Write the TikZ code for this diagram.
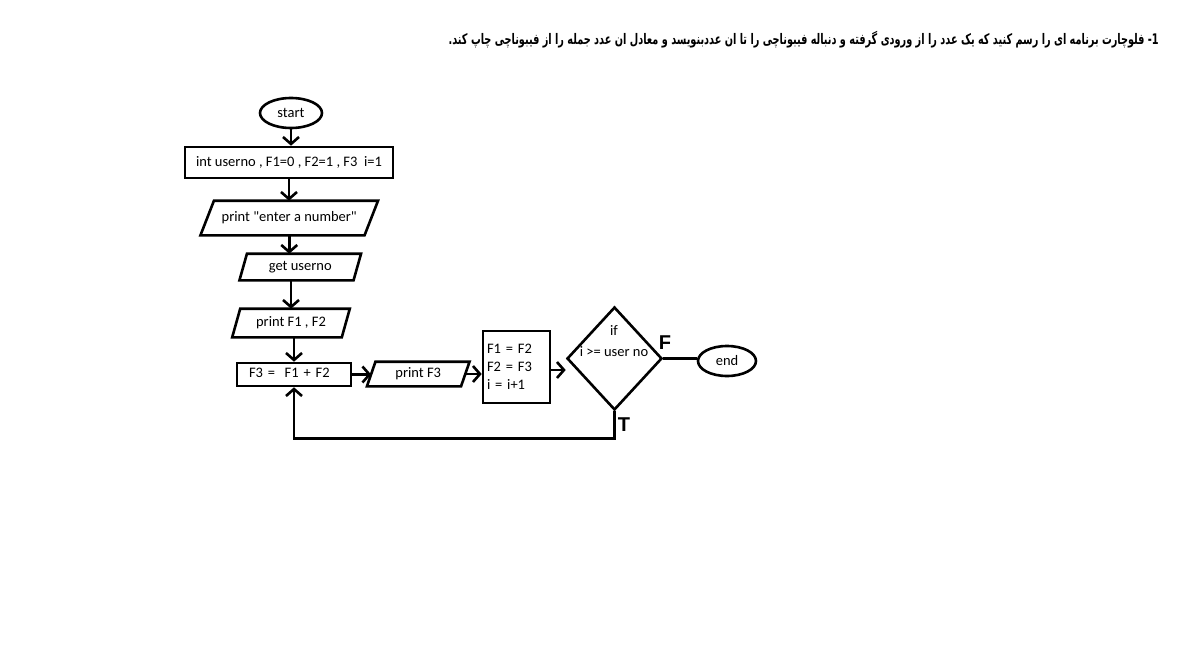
\documentclass[tikz,border=0pt]{standalone}
\usepackage{graphicx}
\usepackage{fontspec}
\setmainfont{Carlito}[Ligatures=TeXOff]
\newfontfamily\arabicfont[Script=Arabic]{DejaVu Sans}
\newfontfamily\labelfont{Liberation Sans}
\TeXXeTstate=1
\usetikzlibrary{shapes.geometric,arrows.meta,calc}
\newcommand\paranode[7]{% name, cx, cy, w, h, slant, text
  \node[minimum width=#4, minimum height=#5, inner sep=0pt] (#1) at (#2,#3) {#7};
  \draw ([xshift=#6/2]#1.north west) -- ([xshift=#6/2]#1.north east)
     -- ([xshift=-#6/2]#1.south east) -- ([xshift=-#6/2]#1.south west) -- cycle;}
\begin{document}
\begin{tikzpicture}[x=1pt,y=-1pt, line width=2.6pt,
  font=\fontsize{14.5}{17}\selectfont,
  box/.style={draw, rectangle, inner sep=0pt},
  term/.style={draw, ellipse, inner sep=0pt},
  flow/.style={-{Straight Barb[length=7pt,width=16pt]}},
  lbl/.style={font=\labelfont\bfseries\fontsize{20}{20}\selectfont, inner sep=0pt}]
\useasboundingbox (0,0) rectangle (1186,666);

\node[anchor=east, inner sep=0pt] (title) at (1160,40)
  {\scalebox{1}[1.5]{\resizebox{710pt}{!}{\arabicfont\bfseries\beginR 1- فلوچارت برنامه ای را رسم کنید که یک عدد را از ورودی گرفته و دنباله فیبوناچی را تا ان عددبنویسد و معادل ان عدد جمله را از فیبوناچی چاپ کند.\endR}}};

\node[term, minimum width=62, minimum height=30] (start) at (291,113) {start};
\node[box, minimum width=208, minimum height=31] (init) at (289,162.5) {int userno , F1=0 , F2=1 , F3\ \ i=1};
\paranode{p1}{289.25}{218}{161.5}{32}{13.5}{print "enter a number"}
\paranode{gu}{300.25}{267}{111.5}{24}{7.5}{get userno}
\paranode{pf}{291}{323}{107}{26}{8}{print F1 , F2}
\node[box, minimum width=114, minimum height=23, text width=90, inner xsep=12, align=left] (f3) at (294,374.5) {\raisebox{3pt}{F3 =\ \ F1 + F2}};
\paranode{pF3}{418.25}{374}{91.5}{22}{8.5}{print F3}
\node[box, minimum width=67, minimum height=72, text width=59, inner xsep=4, align=left,
  font=\fontsize{14.5}{18}\selectfont] (upd) at (516.5,367) {F1 = F2\\F2 = F3\\i = i+1};
\node[draw, diamond, minimum width=95, minimum height=103, inner sep=0pt] (dia) at (614.5,358.5) {};
\node[align=center, inner sep=0pt, font=\fontsize{14.5}{21}\selectfont] (dtxt) at (614,341) {if\\i >= user no};
\node[term, minimum width=58, minimum height=30] (end) at (727,361) {end};
\node[lbl] (Fl) at (665,343) {F};
\node[lbl] (Tl) at (624,425) {T};

\draw[flow] (start.south) -- (start.south |- init.north);
\draw[flow] (init.south) -- (init.south |- p1.north);
\draw[flow] (p1.south) -- (p1.south |- gu.north);
\draw[flow] (pf.north |- gu.south) -- (pf.north);
\draw[flow] (f3.north |- pf.south) -- (f3.north);
\draw[flow] (f3.east) -- (f3.east -| pF3.west);
\draw[flow] (pF3.east) -- (pF3.east -| upd.west);
\draw[flow] ([yshift=-3pt]upd.east) -- ([yshift=-3pt]upd.east -| dia.west);
\draw (dia.east) -- (dia.east -| end.west);
\draw[flow] (dia.south) -- ++(0,27) -| (f3.south);
\end{tikzpicture}
\end{document}
